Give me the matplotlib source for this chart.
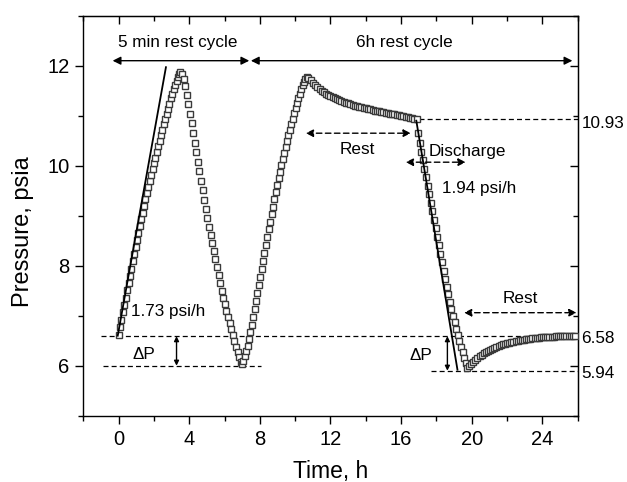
import matplotlib
matplotlib.use("Agg")
import matplotlib.pyplot as plt
from matplotlib.ticker import MultipleLocator

plt.rcParams['font.family'] = ['Liberation Sans', 'DejaVu Sans']

# --- data (time in h, pressure in psia) ---
t_charge1 = [0.00, 0.08, 0.16, 0.24, 0.32, 0.40, 0.48, 0.56, 0.64, 0.72, 0.80, 0.88, 0.96,
             1.04, 1.12, 1.20, 1.28, 1.36, 1.44, 1.52, 1.60, 1.68, 1.76, 1.84, 1.92, 2.00,
             2.08, 2.16, 2.24, 2.32, 2.40, 2.48, 2.56, 2.64, 2.72, 2.80, 2.88, 2.96,
             3.04, 3.12, 3.20, 3.28, 3.36, 3.44, 3.50]
p_charge1 = [6.62, 6.77, 6.92, 7.07, 7.22, 7.36, 7.51, 7.65, 7.80, 7.94, 8.09, 8.23, 8.38,
             8.52, 8.65, 8.79, 8.93, 9.06, 9.20, 9.33, 9.45, 9.57, 9.69, 9.81, 9.93, 10.05,
             10.16, 10.27, 10.39, 10.50, 10.61, 10.72, 10.83, 10.93, 11.04, 11.14, 11.24, 11.35,
             11.44, 11.53, 11.62, 11.70, 11.77, 11.84, 11.88]

t_drop1 = [3.59, 3.68, 3.77, 3.86, 3.95, 4.04, 4.13, 4.22, 4.31, 4.40, 4.49, 4.58, 4.67,
           4.76, 4.85, 4.94, 5.03, 5.12, 5.21, 5.30, 5.39, 5.48, 5.57, 5.66, 5.75, 5.84,
           5.93, 6.02, 6.11, 6.20, 6.29, 6.38, 6.47, 6.56, 6.65, 6.74, 6.83, 6.92, 7.00]
p_drop1 = [11.84, 11.74, 11.59, 11.42, 11.23, 11.04, 10.85, 10.65, 10.46, 10.27, 10.08, 9.89, 9.70,
           9.51, 9.32, 9.14, 8.95, 8.78, 8.61, 8.45, 8.29, 8.13, 7.97, 7.81, 7.65, 7.50,
           7.36, 7.23, 7.10, 6.97, 6.85, 6.73, 6.61, 6.50, 6.38, 6.27, 6.17, 6.08, 6.04]

t_charge2 = [7.06, 7.14, 7.22, 7.30, 7.38, 7.46, 7.54, 7.62, 7.70, 7.78, 7.86, 7.94, 8.02,
             8.10, 8.18, 8.26, 8.34, 8.42, 8.50, 8.58, 8.66, 8.74, 8.82, 8.90, 8.98, 9.06,
             9.14, 9.22, 9.30, 9.38, 9.46, 9.54, 9.62, 9.70, 9.78, 9.86, 9.94, 10.02,
             10.10, 10.18, 10.26, 10.34, 10.42, 10.50, 10.58, 10.66]
p_charge2 = [6.10, 6.19, 6.29, 6.40, 6.53, 6.67, 6.82, 6.97, 7.13, 7.29, 7.45, 7.61, 7.77,
             7.93, 8.09, 8.25, 8.41, 8.57, 8.73, 8.88, 9.03, 9.18, 9.33, 9.47, 9.61, 9.75,
             9.88, 10.01, 10.14, 10.26, 10.38, 10.50, 10.61, 10.72, 10.83, 10.94, 11.05, 11.15,
             11.25, 11.35, 11.44, 11.53, 11.61, 11.68, 11.74, 11.78]

t_rest1 = [10.75, 10.88, 11.00, 11.12, 11.25, 11.38, 11.50, 11.62, 11.75, 11.88, 12.00, 12.12,
           12.25, 12.38, 12.50, 12.62, 12.75, 12.88, 13.00, 13.12, 13.25, 13.38, 13.50, 13.62,
           13.75, 13.88, 14.00, 14.12, 14.25, 14.38, 14.50, 14.62, 14.75, 14.88, 15.00, 15.12,
           15.25, 15.38, 15.50, 15.62, 15.75, 15.88, 16.00, 16.12, 16.25, 16.38, 16.50, 16.62,
           16.75, 16.88]
p_rest1 = [11.76, 11.71, 11.66, 11.62, 11.58, 11.54, 11.50, 11.47, 11.44, 11.41, 11.39, 11.37,
           11.35, 11.33, 11.31, 11.29, 11.28, 11.26, 11.25, 11.23, 11.22, 11.20, 11.19, 11.18,
           11.17, 11.16, 11.15, 11.14, 11.13, 11.11, 11.10, 11.09, 11.09, 11.08, 11.07, 11.06,
           11.05, 11.04, 11.03, 11.03, 11.02, 11.01, 11.00, 10.99, 10.98, 10.97, 10.96, 10.95,
           10.94, 10.93]

t_drop2 = [16.96, 17.05, 17.14, 17.23, 17.32, 17.41, 17.50, 17.59, 17.68, 17.77, 17.86, 17.95,
           18.04, 18.13, 18.22, 18.31, 18.40, 18.49, 18.58, 18.67, 18.76, 18.85, 18.94, 19.03,
           19.12, 19.21, 19.30, 19.39, 19.48, 19.57, 19.66, 19.75]
p_drop2 = [10.66, 10.45, 10.28, 10.11, 9.94, 9.77, 9.60, 9.43, 9.26, 9.09, 8.92, 8.75,
           8.58, 8.41, 8.24, 8.07, 7.90, 7.74, 7.58, 7.43, 7.28, 7.14, 7.00, 6.87,
           6.74, 6.62, 6.50, 6.38, 6.27, 6.16, 6.05, 5.96]

t_rest2 = [19.84, 19.96, 20.08, 20.20, 20.32, 20.44, 20.56, 20.68, 20.80, 20.92, 21.04, 21.16,
           21.28, 21.40, 21.52, 21.64, 21.76, 21.88, 22.00, 22.12, 22.24, 22.36, 22.48, 22.60,
           22.72, 22.84, 22.96, 23.08, 23.20, 23.32, 23.44, 23.56, 23.68, 23.80, 23.92, 24.04,
           24.16, 24.28, 24.40, 24.52, 24.64, 24.76, 24.88, 25.00, 25.12, 25.24, 25.36, 25.48,
           25.60, 25.72, 25.84]
p_rest2 = [5.99, 6.03, 6.07, 6.11, 6.15, 6.19, 6.22, 6.25, 6.28, 6.30, 6.32, 6.34,
           6.36, 6.38, 6.40, 6.41, 6.43, 6.44, 6.45, 6.46, 6.47, 6.48, 6.49, 6.50,
           6.51, 6.52, 6.52, 6.53, 6.54, 6.54, 6.55, 6.55, 6.56, 6.56, 6.57, 6.57,
           6.57, 6.58, 6.58, 6.58, 6.58, 6.59, 6.59, 6.59, 6.59, 6.59, 6.60, 6.60,
           6.60, 6.60, 6.60]

# fitted slopes (end points of the drawn lines)
fit1_t = [-0.05, 2.68]
fit1_p = [6.60, 11.97]
fit2_t = [16.86, 19.19]
fit2_p = [10.90, 5.92]

x_ticks = [0, 4, 8, 12, 16, 20, 24]
y_ticks = [6, 8, 10, 12]


def dbl_arrow(ax, x0, y0, x1, y1, dashed=False, size=11):
    props = dict(arrowstyle='<|-|>', color='black', lw=1.0,
                 shrinkA=0, shrinkB=0, mutation_scale=size)
    if dashed:
        props['linestyle'] = (0, (4, 2.5))
    ax.annotate('', xy=(x1, y1), xytext=(x0, y0), arrowprops=props)


def hline(ax, x0, x1, y):
    ax.plot([x0, x1], [y, y], color='black', lw=0.9, ls=(0, (4, 2.5)), zorder=1)


def main():
    fig = plt.figure(figsize=(6.27, 4.82), dpi=100)
    ax = fig.add_axes([83.3 / 627, 1 - 415.7 / 482, 494.4 / 627, 400 / 482])

    # dashed reference levels
    hline(ax, 17.0, 26.0, 10.93)
    hline(ax, -1.0, 26.0, 6.59)
    hline(ax, -0.9, 8.06, 6.0)
    hline(ax, 17.68, 26.0, 5.90)

    segs = [(t_charge1, p_charge1), (t_drop1, p_drop1), (t_charge2, p_charge2),
            (t_rest1, p_rest1), (t_drop2, p_drop2), (t_rest2, p_rest2)]
    t_all, p_all = [], []
    for t, p in segs:
        t_all += t
        p_all += p
    ax.plot(t_all, p_all, ls='none', marker='s', ms=5.0, mfc='white',
            mec='#3a3a3a', mew=1.0, zorder=3)

    ax.plot(fit1_t, fit1_p, color='black', lw=1.3, zorder=4)
    ax.plot(fit2_t, fit2_p, color='black', lw=1.3, zorder=4)

    # cycle arrows
    dbl_arrow(ax, -0.34, 12.1, 7.40, 12.1, size=12)
    dbl_arrow(ax, 7.49, 12.1, 25.70, 12.1, size=12)
    ax.text(-0.05, 12.38, '5 min rest cycle', fontsize=12.3, ha='left', va='baseline')
    ax.text(13.43, 12.38, '6h rest cycle', fontsize=12.3, ha='left', va='baseline')

    # rest / discharge arrows
    dbl_arrow(ax, 10.60, 10.65, 16.55, 10.65, dashed=True)
    ax.text(12.49, 10.23, 'Rest', fontsize=12.3, ha='left', va='baseline')
    dbl_arrow(ax, 16.26, 10.07, 19.66, 10.07, dashed=True)
    ax.text(17.55, 10.20, 'Discharge', fontsize=12.3, ha='left', va='baseline')
    ax.text(18.34, 9.46, '1.94 psi/h', fontsize=12.3, ha='left', va='baseline')
    ax.text(0.70, 6.99, '1.73 psi/h', fontsize=12.3, ha='left', va='baseline')
    dbl_arrow(ax, 19.56, 7.06, 25.94, 7.06, dashed=True)
    ax.text(21.73, 7.26, 'Rest', fontsize=12.3, ha='left', va='baseline')

    # delta P
    dbl_arrow(ax, 3.28, 6.59, 3.28, 6.0, size=7)
    ax.text(0.79, 6.13, 'ΔP', fontsize=12.3, ha='left', va='baseline')
    dbl_arrow(ax, 18.62, 6.59, 18.62, 5.90, size=7)
    ax.text(16.45, 6.12, 'ΔP', fontsize=12.3, ha='left', va='baseline')

    # values on the right
    ax.text(26.21, 10.76, '10.93', fontsize=12.3, ha='left', va='baseline')
    ax.text(26.21, 6.45, '6.58', fontsize=12.3, ha='left', va='baseline')
    ax.text(26.21, 5.76, '5.94', fontsize=12.3, ha='left', va='baseline')

    # axes
    ax.set_xlim(-2, 26)
    ax.set_ylim(5, 13)
    ax.set_xticks(x_ticks)
    ax.set_yticks(y_ticks)
    ax.xaxis.set_minor_locator(MultipleLocator(2))
    ax.yaxis.set_minor_locator(MultipleLocator(1))
    ax.tick_params(which='major', direction='out', length=6, width=1.0,
                   labelsize=14.5, pad=4)
    ax.tick_params(which='minor', direction='out', length=3.5, width=1.0)
    for s in ax.spines.values():
        s.set_linewidth(1.0)

    top = ax.secondary_xaxis('top')
    top.set_xticks(x_ticks)
    top.xaxis.set_minor_locator(MultipleLocator(2))
    top.tick_params(which='major', direction='in', length=6, width=1.0, labeltop=False)
    top.tick_params(which='minor', direction='in', length=3.5, width=1.0)
    right = ax.secondary_yaxis('right')
    right.set_yticks(y_ticks)
    right.yaxis.set_minor_locator(MultipleLocator(1))
    right.tick_params(which='major', direction='in', length=6, width=1.0, labelright=False)
    right.tick_params(which='minor', direction='in', length=3.5, width=1.0)

    fig.text(330.5 / 627, 1 - 478.3 / 482, 'Time, h', fontsize=16.5, ha='center', va='baseline')
    fig.text(29.3 / 627, 1 - 231.7 / 482, 'Pressure, psia', fontsize=17, rotation=90,
             ha='center', va='baseline', rotation_mode='anchor')

    fig.savefig('out.png', dpi=100)
    plt.close(fig)


if __name__ == '__main__':
    main()
